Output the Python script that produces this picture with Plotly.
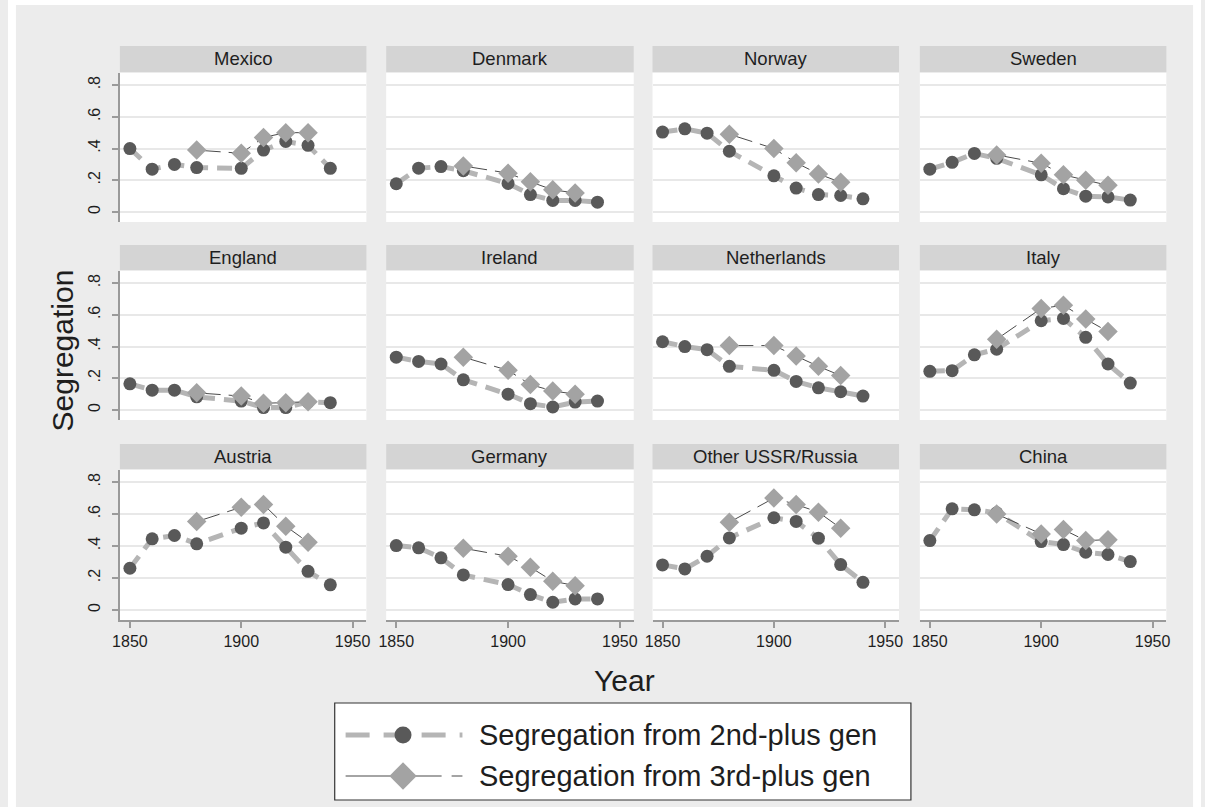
import plotly.graph_objects as go

# ---------------- data ----------------
countries = ["Mexico", "Denmark", "Norway", "Sweden",
             "England", "Ireland", "Netherlands", "Italy",
             "Austria", "Germany", "Other USSR/Russia", "China"]
years_2nd = [1850, 1860, 1870, 1880, 1900, 1910, 1920, 1930, 1940]
years_3rd = [1880, 1900, 1910, 1920, 1930]

mexico_2nd = [0.40, 0.27, 0.30, 0.28, 0.275, 0.39, 0.445, 0.42, 0.275]
mexico_3rd = [0.39, 0.37, 0.47, 0.50, 0.50]
denmark_2nd = [0.178, 0.276, 0.286, 0.26, 0.18, 0.11, 0.073, 0.073, 0.062]
denmark_3rd = [0.29, 0.245, 0.19, 0.14, 0.12]
norway_2nd = [0.504, 0.524, 0.497, 0.383, 0.228, 0.151, 0.11, 0.104, 0.083]
norway_3rd = [0.49, 0.40, 0.31, 0.24, 0.187]
sweden_2nd = [0.27, 0.313, 0.369, 0.338, 0.234, 0.147, 0.10, 0.095, 0.075]
sweden_3rd = [0.36, 0.307, 0.234, 0.20, 0.168]
england_2nd = [0.165, 0.125, 0.125, 0.083, 0.056, 0.015, 0.015, 0.05, 0.046]
england_3rd = [0.108, 0.088, 0.042, 0.046, 0.052]
ireland_2nd = [0.333, 0.306, 0.29, 0.19, 0.10, 0.04, 0.019, 0.05, 0.056]
ireland_3rd = [0.333, 0.25, 0.16, 0.12, 0.10]
netherlands_2nd = [0.43, 0.40, 0.38, 0.275, 0.25, 0.18, 0.14, 0.115, 0.088]
netherlands_3rd = [0.406, 0.406, 0.34, 0.275, 0.217]
italy_2nd = [0.244, 0.248, 0.348, 0.383, 0.5625, 0.577, 0.458, 0.29, 0.17]
italy_3rd = [0.446, 0.64, 0.66, 0.573, 0.494]
austria_2nd = [0.261, 0.445, 0.466, 0.414, 0.512, 0.545, 0.393, 0.242, 0.157]
austria_3rd = [0.553, 0.643, 0.66, 0.524, 0.424]
germany_2nd = [0.403, 0.389, 0.326, 0.219, 0.159, 0.096, 0.048, 0.069, 0.069]
germany_3rd = [0.386, 0.336, 0.267, 0.18, 0.152]
russia_2nd = [0.282, 0.257, 0.336, 0.451, 0.577, 0.554, 0.449, 0.284, 0.173]
russia_3rd = [0.549, 0.70, 0.66, 0.612, 0.512]
china_2nd = [0.434, 0.633, 0.627, 0.608, 0.428, 0.409, 0.361, 0.347, 0.303]
china_3rd = [0.60, 0.476, 0.503, 0.434, 0.44]

series_2nd = [mexico_2nd, denmark_2nd, norway_2nd, sweden_2nd,
              england_2nd, ireland_2nd, netherlands_2nd, italy_2nd,
              austria_2nd, germany_2nd, russia_2nd, china_2nd]
series_3rd = [mexico_3rd, denmark_3rd, norway_3rd, sweden_3rd,
              england_3rd, ireland_3rd, netherlands_3rd, italy_3rd,
              austria_3rd, germany_3rd, russia_3rd, china_3rd]

y_tickvals = [0, 0.2, 0.4, 0.6, 0.8]
y_ticktext = ["0", ".2", ".4", ".6", ".8"]
x_tickvals = [1850, 1900, 1950]
legend_labels = ["Segregation from 2nd-plus gen", "Segregation from 3rd-plus gen"]

# ---------------- layout geometry ----------------
W, H = 1205, 807
FONT = "Liberation Sans, Arial, sans-serif"
col_px = [(113, 362), (382, 632), (651, 900), (921, 1170)]
row_px = [(73, 222), (271, 420), (470, 620)]
strip_px = [(46, 72), (245, 270), (444, 469)]

def px_x(p):
    return p / W

def px_y(p):
    return 1 - p / H

C1_LINE = "#b5b5b5"
C1_MARK = "#595959"
C2_LINE = "#4a4a4a"
C2_MARK = "#a3a3a3"
TXT = "#1e1e1e"

fig = go.Figure()
layout = {}
shapes = []
annotations = []

# outer white border
shapes.append(dict(type="rect", xref="paper", yref="paper", x0=0, x1=1, y0=px_y(5), y1=1,
                   fillcolor="white", line=dict(width=0), layer="below"))
shapes.append(dict(type="rect", xref="paper", yref="paper", x0=0, x1=px_x(8), y0=0, y1=1,
                   fillcolor="white", line=dict(width=0), layer="below"))
shapes.append(dict(type="rect", xref="paper", yref="paper", x0=px_x(1197), x1=1, y0=0, y1=1,
                   fillcolor="white", line=dict(width=0), layer="below"))

for i, name in enumerate(countries):
    r, c = divmod(i, 4)
    k = i + 1
    xs = "" if k == 1 else str(k)
    xa, ya = "xaxis" + xs, "yaxis" + xs
    xr, yr = "x" + xs, "y" + xs

    fig.add_trace(go.Scatter(
        x=years_2nd, y=series_2nd[i], xaxis=xr, yaxis=yr, mode="lines+markers",
        line=dict(color=C1_LINE, width=5, dash="15px,9px"),
        marker=dict(symbol="circle", size=13, color=C1_MARK),
        showlegend=False, hoverinfo="skip"))
    fig.add_trace(go.Scatter(
        x=years_3rd, y=series_3rd[i], xaxis=xr, yaxis=yr, mode="lines+markers",
        line=dict(color=C2_LINE, width=1, dash="24px,8px"),
        marker=dict(symbol="diamond", size=15, color=C2_MARK),
        showlegend=False, hoverinfo="skip"))

    x0, x1 = col_px[c]
    y0, y1 = row_px[r]
    bottom = r == 2
    left = c == 0
    layout[xa] = dict(
        domain=[px_x(x0), px_x(x1)], range=[1845.5, 1956.2], anchor=yr,
        showgrid=False, zeroline=False, tickvals=x_tickvals,
        showticklabels=bottom, ticks="outside" if bottom else "",
        showline=bottom, linecolor="#9a9a9a", linewidth=2,
        ticklen=6, tickwidth=1.5, tickcolor="#9a9a9a",
        tickfont=dict(size=16, color=TXT, family=FONT), fixedrange=True)
    layout[ya] = dict(
        domain=[px_y(y1), px_y(y0)], range=[-0.063, 0.876], anchor=xr,
        showgrid=True, gridcolor="#e8e8e8", gridwidth=2, zeroline=False,
        tickvals=y_tickvals, ticktext=y_ticktext, tickangle=-90,
        showticklabels=left, ticks="outside" if left else "",
        showline=left, linecolor="#9a9a9a", linewidth=2,
        ticklen=6, tickwidth=1.5, tickcolor="#9a9a9a", ticklabelstandoff=5,
        tickfont=dict(size=16, color=TXT, family=FONT), fixedrange=True)

    s0, s1 = strip_px[r]
    shapes.append(dict(type="rect", xref="paper", yref="paper",
                       x0=px_x(x0), x1=px_x(x1), y0=px_y(s1), y1=px_y(s0),
                       fillcolor="#d4d4d4", line=dict(width=0), layer="below"))
    annotations.append(dict(text=name, xref="paper", yref="paper",
                            x=px_x((x0 + x1) / 2), y=px_y((s0 + s1) / 2),
                            xanchor="center", yanchor="middle", showarrow=False,
                            font=dict(size=18.5, color=TXT, family=FONT)))

# axis titles
annotations.append(dict(text="Segregation", xref="paper", yref="paper",
                        x=px_x(55), y=px_y(350), textangle=-90, showarrow=False,
                        xanchor="center", yanchor="middle",
                        font=dict(size=30, color=TXT, family=FONT)))
annotations.append(dict(text="Year", xref="paper", yref="paper",
                        x=px_x(623), y=px_y(680), showarrow=False,
                        xanchor="center", yanchor="middle",
                        font=dict(size=30, color=TXT, family=FONT)))

# ---------------- legend (drawn by hand on a hidden axis) ----------------
LX0, LX1, LY0, LY1 = 330, 912, 703, 800
layout["xaxis13"] = dict(domain=[px_x(LX0), px_x(LX1)], range=[LX0, LX1], visible=False,
                         anchor="y13", fixedrange=True)
layout["yaxis13"] = dict(domain=[px_y(LY1), px_y(LY0)], range=[LY1, LY0], visible=False,
                         anchor="x13", showgrid=False, fixedrange=True)
shapes.append(dict(type="rect", xref="paper", yref="paper",
                   x0=px_x(LX0), x1=px_x(LX1), y0=px_y(LY1), y1=px_y(LY0),
                   fillcolor="rgba(0,0,0,0)", line=dict(color="#333333", width=1.2),
                   layer="above"))
leg_y = [735, 776]
fig.add_trace(go.Scatter(x=[341, 459], y=[leg_y[0]] * 2, xaxis="x13", yaxis="y13",
                         mode="lines", line=dict(color=C1_LINE, width=5, dash="24px,14px"),
                         showlegend=False, hoverinfo="skip"))
fig.add_trace(go.Scatter(x=[399], y=[leg_y[0]], xaxis="x13", yaxis="y13", mode="markers",
                         marker=dict(symbol="circle", size=17, color=C1_MARK),
                         showlegend=False, hoverinfo="skip"))
fig.add_trace(go.Scatter(x=[341, 459], y=[leg_y[1]] * 2, xaxis="x13", yaxis="y13",
                         mode="lines", line=dict(color=C2_LINE, width=1.2, dash="96px,10px"),
                         showlegend=False, hoverinfo="skip"))
fig.add_trace(go.Scatter(x=[399], y=[leg_y[1]], xaxis="x13", yaxis="y13", mode="markers",
                         marker=dict(symbol="diamond", size=21, color=C2_MARK),
                         showlegend=False, hoverinfo="skip"))
for t, yy in zip(legend_labels, leg_y):
    annotations.append(dict(text=t, xref="paper", yref="paper",
                            x=px_x(474), y=px_y(yy), xanchor="left", yanchor="middle",
                            showarrow=False,
                            font=dict(size=29, color=TXT, family=FONT)))

fig.update_layout(
    width=W, height=H, margin=dict(l=0, r=0, t=0, b=0),
    paper_bgcolor="#ececec", plot_bgcolor="white",
    font=dict(family=FONT), showlegend=False,
    shapes=shapes, annotations=annotations, **layout)

fig.write_html("out.html", config={"displayModeBar": False})
